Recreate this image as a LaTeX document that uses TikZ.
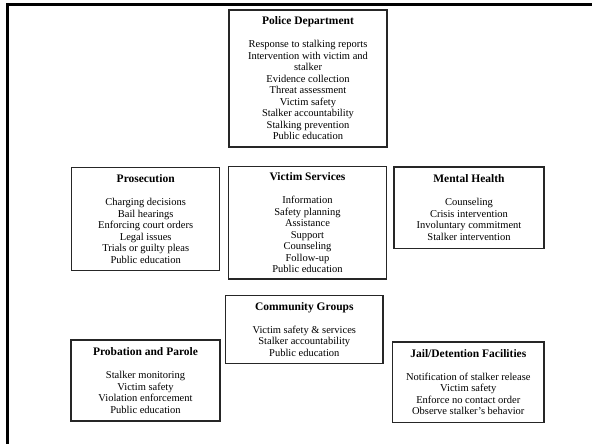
\documentclass[tikz,border=0pt]{standalone}
\usepackage{fontspec}
\setmainfont{Liberation Serif}
\usepackage{tikz}
\usetikzlibrary{positioning}

\newcommand{\boxtitle}[1]{{\fontsize{11.5}{11.5}\selectfont\bfseries #1}\\[11.5pt]}

\begin{document}
\begin{tikzpicture}
  [x=1pt,y=-1pt,
   every node/.style={draw=black!85,line width=1.5pt,rectangle,align=center,
     inner sep=0pt,font=\fontsize{10.5}{11.5}\selectfont}]
  \useasboundingbox (0,0) rectangle (592,444);
  \draw[line width=2.5pt] (7.5,444) -- (7.5,4.5) -- (592,4.5);

  \node[minimum width=158pt,minimum height=137pt] (police) at (308,78.5)
    {\boxtitle{Police Department}Response to stalking reports\\Intervention with victim and\\stalker\\Evidence collection\\Threat assessment\\Victim safety\\Stalker accountability\\Stalking prevention\\Public education};
  \node[minimum width=148pt,minimum height=102.6pt] (prosec) at (145.7,219)
    {\boxtitle{Prosecution}Charging decisions\\Bail hearings\\Enforcing court orders\\Legal issues\\Trials or guilty pleas\\Public education};
  \node[minimum width=157.7pt,minimum height=112.7pt] (victim) at (307.5,222.7)
    {\boxtitle{Victim Services}Information\\Safety planning\\Assistance\\Support\\Counseling\\Follow-up\\Public education};
  \node[minimum width=150pt,minimum height=81.3pt] (mental) at (469,207.7)
    {\boxtitle{Mental Health}Counseling\\Crisis intervention\\Involuntary commitment\\Stalker intervention};
  \node[minimum width=157.3pt,minimum height=67.6pt] (community) at (304.3,329.5)
    {\boxtitle{Community Groups}Victim safety \& services\\Stalker accountability\\Public education};
  \node[minimum width=149pt,minimum height=81pt] (probation) at (145.5,380.5)
    {\boxtitle{Probation and Parole}Stalker monitoring\\Victim safety\\Violation enforcement\\Public education};
  \node[minimum width=151.5pt,minimum height=80.7pt] (jail) at (468.3,382.3)
    {\boxtitle{Jail/Detention Facilities}Notification of stalker release\\Victim safety\\Enforce no contact order\\Observe stalker's behavior};

\end{tikzpicture}
\end{document}
